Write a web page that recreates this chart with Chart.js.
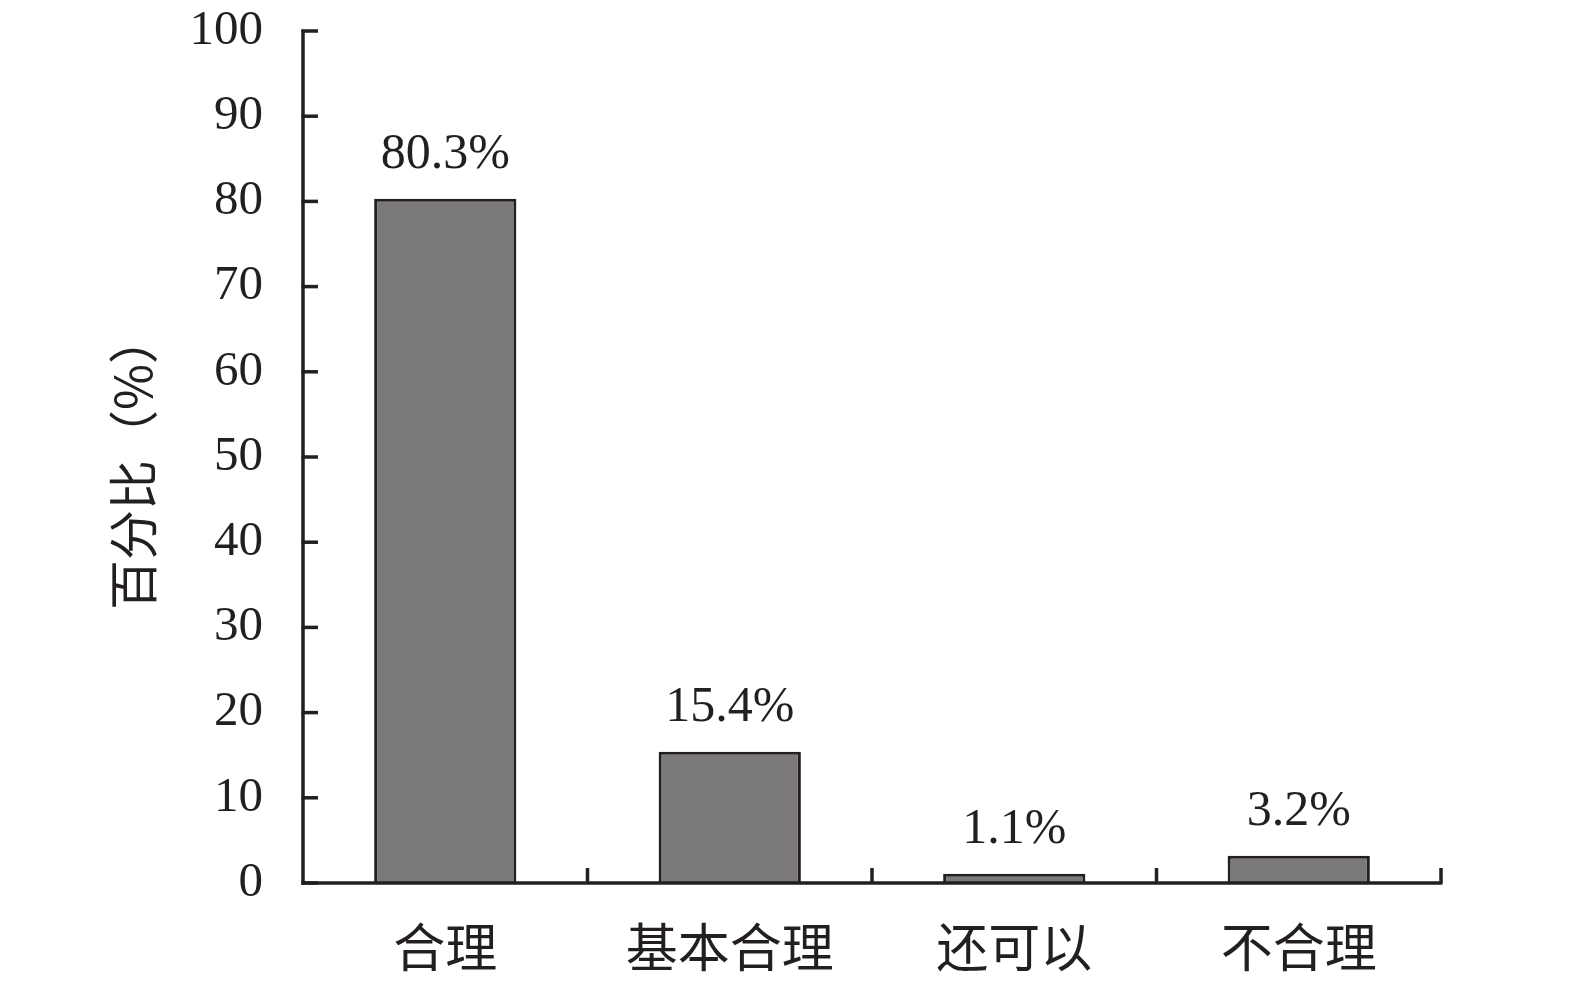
<!DOCTYPE html>
<html><head><meta charset="utf-8">
<script src="https://cdn.jsdelivr.net/npm/chart.js@4/dist/chart.umd.min.js"></script>
<style>html,body{margin:0;padding:0;background:#fff;overflow:hidden;}#c{display:block;}</style>
</head><body>
<canvas id="c" width="1575" height="984"></canvas>
<script>
const categories = ['合理', '基本合理', '还可以', '不合理'];
const values = [80.3, 15.4, 1.1, 3.2];
const valueLabels = ['80.3%', '15.4%', '1.1%', '3.2%'];
const yTitle = '百分比（%）';
const yMin = 0, yMax = 100, yStep = 10;

const INK = '#231f20';
const SERIF = '"Liberation Serif", "DejaVu Serif", serif';
const CJK = '"Noto Sans CJK SC", "Noto Sans", sans-serif';

const axesPlugin = {
  id: 'axesPlugin',
  afterDatasetsDraw(chart) {
    const ctx = chart.ctx;
    const xs = chart.scales.x, ys = chart.scales.y;
    const y0 = ys.getPixelForValue(yMin), yTop = ys.getPixelForValue(yMax);
    const left = xs.left, right = xs.right;
    ctx.save();
    ctx.strokeStyle = INK;
    ctx.lineWidth = 3.5;
    ctx.lineCap = 'butt';
    // y axis
    ctx.beginPath();
    ctx.moveTo(left, y0 + 1.5);
    ctx.lineTo(left, yTop - 1.5);
    ctx.stroke();
    ys.ticks.forEach(t => {
      const py = ys.getPixelForValue(t.value);
      ctx.beginPath();
      ctx.moveTo(left - 1.5, py);
      ctx.lineTo(left + 15, py);
      ctx.stroke();
    });
    // x axis
    ctx.beginPath();
    ctx.moveTo(left - 1.5, y0);
    ctx.lineTo(right + 1.5, y0);
    ctx.stroke();
    const n = categories.length;
    const w = (right - left) / n;
    for (let i = 1; i <= n; i++) {
      const px = left + i * w;
      ctx.beginPath();
      ctx.moveTo(px, y0);
      ctx.lineTo(px, y0 - 15);
      ctx.stroke();
    }
    // value labels
    ctx.fillStyle = INK;
    ctx.font = '50px ' + SERIF;
    ctx.textAlign = 'center';
    ctx.textBaseline = 'alphabetic';
    const meta = chart.getDatasetMeta(0);
    meta.data.forEach((bar, i) => {
      ctx.fillText(valueLabels[i], bar.x, bar.y - 31);
    });
    // category labels
    ctx.font = '52px ' + CJK;
    ctx.textBaseline = 'middle';
    categories.forEach((c, i) => {
      ctx.fillText(c, xs.getPixelForValue(i), y0 + 64);
    });
    // y title
    ctx.translate(133, 462);
    ctx.rotate(-Math.PI / 2);
    ctx.font = '50px ' + CJK;
    ctx.fillText(yTitle, 0, 0);
    ctx.restore();
  }
};

new Chart(document.getElementById('c'), {
  type: 'bar',
  data: {
    labels: categories,
    datasets: [{
      data: values,
      backgroundColor: '#7b7879',
      borderColor: INK,
      borderWidth: 3,
      borderSkipped: 'bottom',
      barPercentage: 0.5,
      categoryPercentage: 1.0
    }]
  },
  options: {
    responsive: false,
    animation: false,
    devicePixelRatio: 1,
    layout: { padding: { left: 0, right: 134, top: 31, bottom: 0 } },
    plugins: { legend: { display: false }, tooltip: { enabled: false } },
    scales: {
      x: {
        offset: true,
        grid: { display: false, drawTicks: false },
        border: { display: false },
        ticks: { display: false },
        afterFit(s) { s.height = 101; s.paddingLeft = 0; s.paddingRight = 0; }
      },
      y: {
        min: yMin, max: yMax,
        grid: { display: false, drawTicks: false },
        border: { display: false },
        ticks: { stepSize: yStep, color: INK, font: { family: SERIF, size: 49 }, padding: 40 },
        afterFit(s) { s.width = 303; s.paddingTop = 0; s.paddingBottom = 0; }
      }
    }
  },
  plugins: [axesPlugin]
});
</script>
</body></html>
